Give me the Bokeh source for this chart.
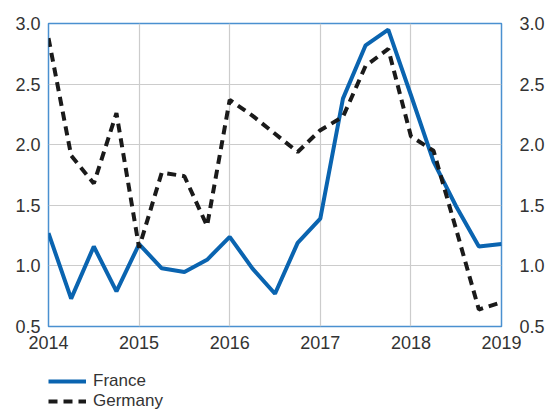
from bokeh.plotting import figure
from bokeh.models import LinearAxis, Legend, LegendItem, FixedTicker, NumeralTickFormatter, Range1d
from bokeh.layouts import column
from bokeh.embed import file_html
from bokeh.resources import INLINE

quarters = [2014.0, 2014.25, 2014.5, 2014.75, 2015.0, 2015.25, 2015.5, 2015.75,
            2016.0, 2016.25, 2016.5, 2016.75, 2017.0, 2017.25, 2017.5, 2017.75,
            2018.0, 2018.25, 2018.5, 2018.75, 2019.0]
france = [1.27, 0.73, 1.16, 0.79, 1.18, 0.98, 0.95, 1.05,
          1.24, 0.98, 0.77, 1.19, 1.39, 2.38, 2.82, 2.95,
          2.41, 1.86, 1.49, 1.16, 1.18]
germany = [2.88, 1.91, 1.68, 2.26, 1.15, 1.77, 1.74, 1.33,
           2.37, 2.24, 2.09, 1.94, 2.12, 2.23, 2.65, 2.79,
           2.07, 1.95, 1.30, 0.64, 0.70]
x_ticks = [2014, 2015, 2016, 2017, 2018, 2019]
y_ticks = [0.5, 1.0, 1.5, 2.0, 2.5, 3.0]
series_names = ["France", "Germany"]

FONT = "Liberation Sans"
TXT = "#333333"
FRAME = "#4a90d0"
FR_COLOR = "#0a64b0"
DE_COLOR = "#1a1a1a"
DASH = "9 6"

p = figure(width=547, height=356, output_backend="svg", toolbar_location=None,
           x_range=Range1d(2014, 2019), y_range=Range1d(0.5, 3.0),
           min_border_left=48, min_border_right=45, min_border_top=23, min_border_bottom=30,
           y_axis_location=None)
p.outline_line_color = FRAME
p.outline_line_width = 1.5

p.line(quarters, france, line_color=FR_COLOR, line_width=4)
p.line(quarters, germany, line_color=DE_COLOR, line_width=4, line_dash=DASH)

xa = p.xaxis[0]
xa.ticker = FixedTicker(ticks=x_ticks)

left = LinearAxis(ticker=FixedTicker(ticks=y_ticks), formatter=NumeralTickFormatter(format="0.0"))
right = LinearAxis(ticker=FixedTicker(ticks=y_ticks), formatter=NumeralTickFormatter(format="0.0"))
p.add_layout(left, "left")
p.add_layout(right, "right")

for ax in [xa, left, right]:
    ax.axis_line_color = None
    ax.major_tick_line_color = None
    ax.minor_tick_line_color = None
    ax.major_tick_out = 0
    ax.major_tick_in = 0
    ax.major_label_text_font = FONT
    ax.major_label_text_font_size = "18px"
    ax.major_label_text_color = TXT
xa.major_label_standoff = 9
left.major_label_standoff = 8
right.major_label_standoff = 18

p.xgrid.ticker = FixedTicker(ticks=x_ticks)
p.ygrid.ticker = FixedTicker(ticks=y_ticks)
for g in [p.xgrid[0], p.ygrid[0]]:
    g.grid_line_color = "#cccccc"
    g.grid_line_width = 1.2

# legend strip below the chart (its series lie outside this strip's range, only the key shows)
lf = figure(width=547, height=54, output_backend="svg", toolbar_location=None,
            x_range=Range1d(0, 1), y_range=Range1d(0, 1),
            x_axis_location=None, y_axis_location=None,
            min_border=0)
lf.outline_line_color = None
lf.xgrid.visible = False
lf.ygrid.visible = False
r_fr = lf.line(quarters, france, line_color=FR_COLOR, line_width=4)
r_de = lf.line(quarters, germany, line_color=DE_COLOR, line_width=4, line_dash=DASH)
legend = Legend(items=[LegendItem(label=series_names[0], renderers=[r_fr]),
                       LegendItem(label=series_names[1], renderers=[r_de])],
                location=(0, -1), orientation="vertical",
                glyph_width=38, glyph_height=20, label_height=20, spacing=0,
                label_standoff=7, padding=0, margin=0,
                border_line_color=None, background_fill_alpha=0,
                label_text_font=FONT, label_text_font_size="17px", label_text_color=TXT)
lf.add_layout(legend, "center")

open("out.html", "w").write(file_html(column(p, lf, spacing=0), INLINE))
